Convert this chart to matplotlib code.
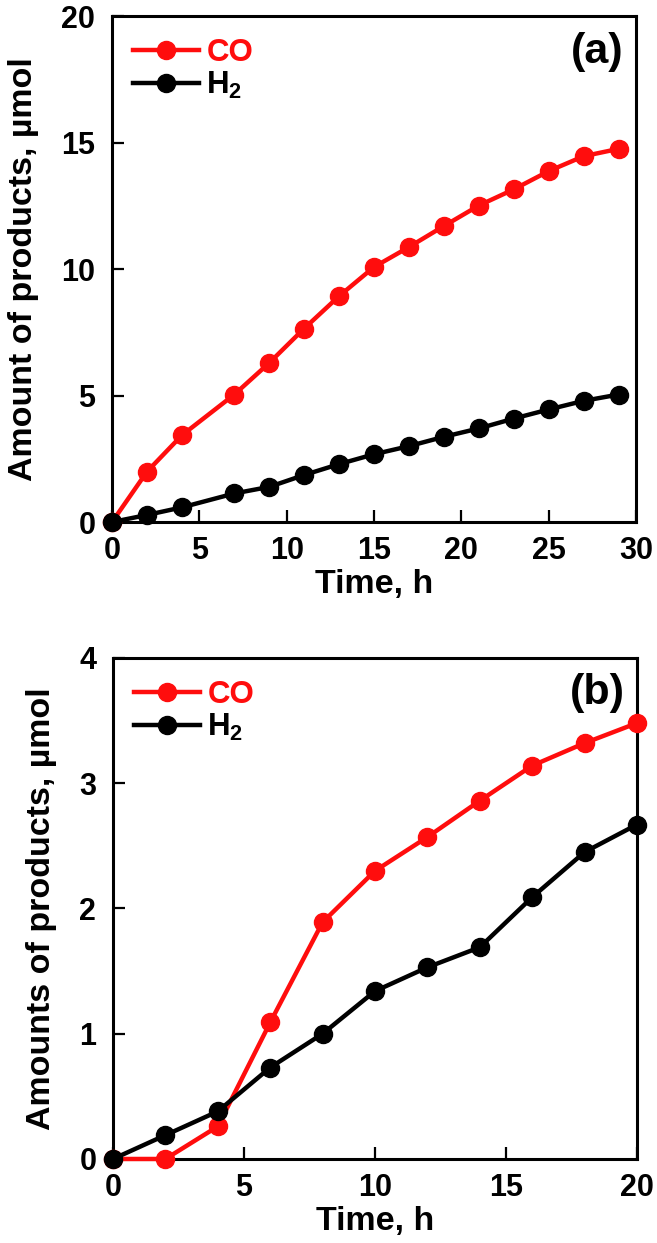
import matplotlib
matplotlib.use("Agg")
import matplotlib.pyplot as plt

plt.rcParams['font.family'] = ['Liberation Sans', 'DejaVu Sans']
plt.rcParams['font.weight'] = 'bold'
plt.rcParams['mathtext.fontset'] = 'custom'
plt.rcParams['mathtext.rm'] = 'Liberation Sans:bold'
plt.rcParams['mathtext.it'] = 'Liberation Sans:bold'
plt.rcParams['mathtext.bf'] = 'Liberation Sans:bold'
plt.rcParams['mathtext.default'] = 'rm'

# Panel (a)
time_a = [0, 2, 4, 7, 9, 11, 13, 15, 17, 19, 21, 23, 25, 27, 29]
co_a = [0, 1.99, 3.43, 5.04, 6.29, 7.65, 8.93, 10.08, 10.87, 11.70, 12.51, 13.15, 13.87, 14.46, 14.75]
h2_a = [0, 0.28, 0.58, 1.13, 1.39, 1.86, 2.29, 2.68, 3.00, 3.37, 3.70, 4.09, 4.45, 4.79, 5.04]
xticks_a = [0, 5, 10, 15, 20, 25, 30]
yticks_a = [0, 5, 10, 15, 20]

# Panel (b)
time_b = [0, 2, 4, 6, 8, 10, 12, 14, 16, 18, 20]
co_b = [0, 0, 0.26, 1.09, 1.89, 2.30, 2.57, 2.86, 3.14, 3.32, 3.48]
h2_b = [0, 0.19, 0.38, 0.73, 1.00, 1.34, 1.53, 1.69, 2.09, 2.45, 2.67]
xticks_b = [0, 5, 10, 15, 20]
yticks_b = [0, 1, 2, 3, 4]

RED = '#ff0d0d'
BLACK = '#000000'

fig = plt.figure(figsize=(6.57, 12.43), dpi=100)
ax_a = fig.add_axes([0.1705, 0.5800, 0.7976, 0.4071])
ax_b = fig.add_axes([0.1720, 0.0676, 0.7976, 0.4031])

def style(ax, xt, yt, xlim, ylim, ylabel, tag):
    ax.set_xlim(*xlim)
    ax.set_ylim(*ylim)
    ax.set_xticks(xt)
    ax.set_yticks(yt)
    ax.tick_params(direction='in', length=8.5, width=1.6, labelsize=22)
    ax.tick_params(axis='x', pad=10)
    ax.tick_params(axis='y', pad=12)
    ax.tick_params(top=False, right=False)
    for lab in ax.get_xticklabels() + ax.get_yticklabels():
        lab.set_fontweight('bold')
    for s in ax.spines.values():
        s.set_linewidth(2.2)
    ax.set_xlabel('Time, h', fontsize=24.5, fontweight='bold', labelpad=2)
    ax.set_ylabel(ylabel, fontsize=24.5, fontweight='bold', labelpad=16)
    ax.text(0.977, 0.929, tag, transform=ax.transAxes, ha='right', va='center',
            fontsize=31, fontweight='bold')
    ax.legend(loc='upper left', bbox_to_anchor=(0.040, 0.956), frameon=False,
              borderpad=0, borderaxespad=0,
              handlelength=2.1, handletextpad=0.25,
              labelspacing=0.05, labelcolor='linecolor',
              prop={'weight': 'bold', 'size': 22.5})

for ax, t, co, h2 in [(ax_a, time_a, co_a, h2_a), (ax_b, time_b, co_b, h2_b)]:
    ax.plot(t, co, '-o', color=RED, lw=3.2, ms=13, label='CO', clip_on=False, zorder=3)
    ax.plot(t, h2, '-o', color=BLACK, lw=3.2, ms=13, label='H$_2$', clip_on=False, zorder=4)

style(ax_a, xticks_a, yticks_a, (0, 30), (0, 20), 'Amount of products, µmol', '(a)')
style(ax_b, xticks_b, yticks_b, (0, 20), (0, 4), 'Amounts of products, µmol', '(b)')

fig.savefig('out.png', dpi=100)
